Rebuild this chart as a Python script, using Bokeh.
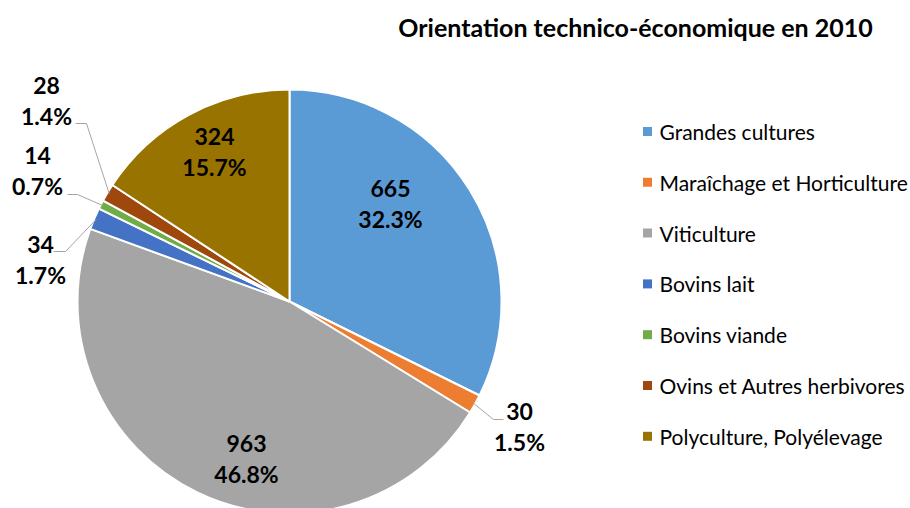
import math
from bokeh.plotting import figure
from bokeh.models import Range1d, ColumnDataSource
from bokeh.core.properties import value
from bokeh.embed import file_html
from bokeh.resources import INLINE

# ---- data ----
categories = ["Grandes cultures", "Maraîchage et Horticulture", "Viticulture",
              "Bovins lait", "Bovins viande", "Ovins et Autres herbivores",
              "Polyculture, Polyélevage"]
counts = [665, 30, 963, 34, 14, 28, 324]
colors = ["#5B9BD5", "#ED7D31", "#A5A5A5", "#4472C4", "#70AD47", "#9E480E", "#997300"]
title_text = "Orientation technico-économique en 2010"

# ---- layout (screen pixels of the 910x508 page) ----
W, H = 910, 508
def X(sx): return sx
def Y(sy): return H - sy

cx, cy, R = X(289), Y(301), 212
label_pos = [(390, 203), (519, 426), (246, 458), (40, 259), (37, 170), (46, 100), (214, 151)]
# leader lines: (elbow, end) in screen px, None when label is inside
leaders = [None, ((493, 419), (503, 419)), None, ((65, 251), (53, 251)),
           ((77, 194), (67, 194)), ((86, 123), (75, 123)), None]

FONT = "Lato"

p = figure(width=W, height=H, output_backend="svg", toolbar_location=None,
           x_range=Range1d(0, W), y_range=Range1d(0, H), min_border=0)
p.axis.visible = False
p.grid.visible = False
p.outline_line_color = None
p.background_fill_color = "white"
p.border_fill_color = "white"

total = sum(counts)
cum = [0]
for c in counts:
    cum.append(cum[-1] + c)
starts = [math.pi / 2 - 2 * math.pi * cum[i + 1] / total for i in range(len(counts))]
ends = [math.pi / 2 - 2 * math.pi * cum[i] / total for i in range(len(counts))]
mids = [(s + e) / 2 for s, e in zip(starts, ends)]

src = ColumnDataSource(dict(x=[cx] * len(counts), y=[cy] * len(counts),
                            start=starts, end=ends, color=colors))
p.wedge(x="x", y="y", radius=R, start_angle="start", end_angle="end",
        fill_color="color", line_color="white", line_width=2, source=src)

# leader lines
for i, ld in enumerate(leaders):
    if ld is None:
        continue
    (ex, ey), (tx, ty) = ld
    x0 = cx + (R - 2) * math.cos(mids[i])
    y0 = cy + (R - 2) * math.sin(mids[i])
    p.line([x0, X(ex), X(tx)], [y0, Y(ey), Y(ty)], line_color="#A6A6A6", line_width=1)

# labels
vals = [str(c) for c in counts]
pcts = [f"{c / total * 100:.1f}%" for c in counts]
gap = 15.5
lx = [X(a) for a, b in label_pos]
ly = [Y(b) for a, b in label_pos]
p.text(x=lx, y=[v + gap for v in ly], text=vals, text_font=value(FONT), text_font_style="bold",
       text_font_size="23px", text_align="center", text_baseline="middle", text_color="#000000")
p.text(x=lx, y=[v - gap for v in ly], text=pcts, text_font=value(FONT), text_font_style="bold",
       text_font_size="23px", text_align="center", text_baseline="middle", text_color="#000000")

# title
p.text(x=[X(635)], y=[Y(26)], text=[title_text], text_font=value(FONT), text_font_style="bold",
       text_font_size="25px", text_align="center", text_baseline="middle", text_color="#000000")

# legend
leg_y = [Y(131 + 50.8 * i) for i in range(len(categories))]
p.rect(x=[X(647)] * len(categories), y=leg_y, width=9, height=9, fill_color=colors, line_color=None)
p.text(x=[X(659)] * len(categories), y=leg_y, text=categories, text_font=value(FONT),
       text_font_size="21px", text_align="left", text_baseline="middle", text_color="#000000")

open("out.html", "w").write(file_html(p, INLINE))
